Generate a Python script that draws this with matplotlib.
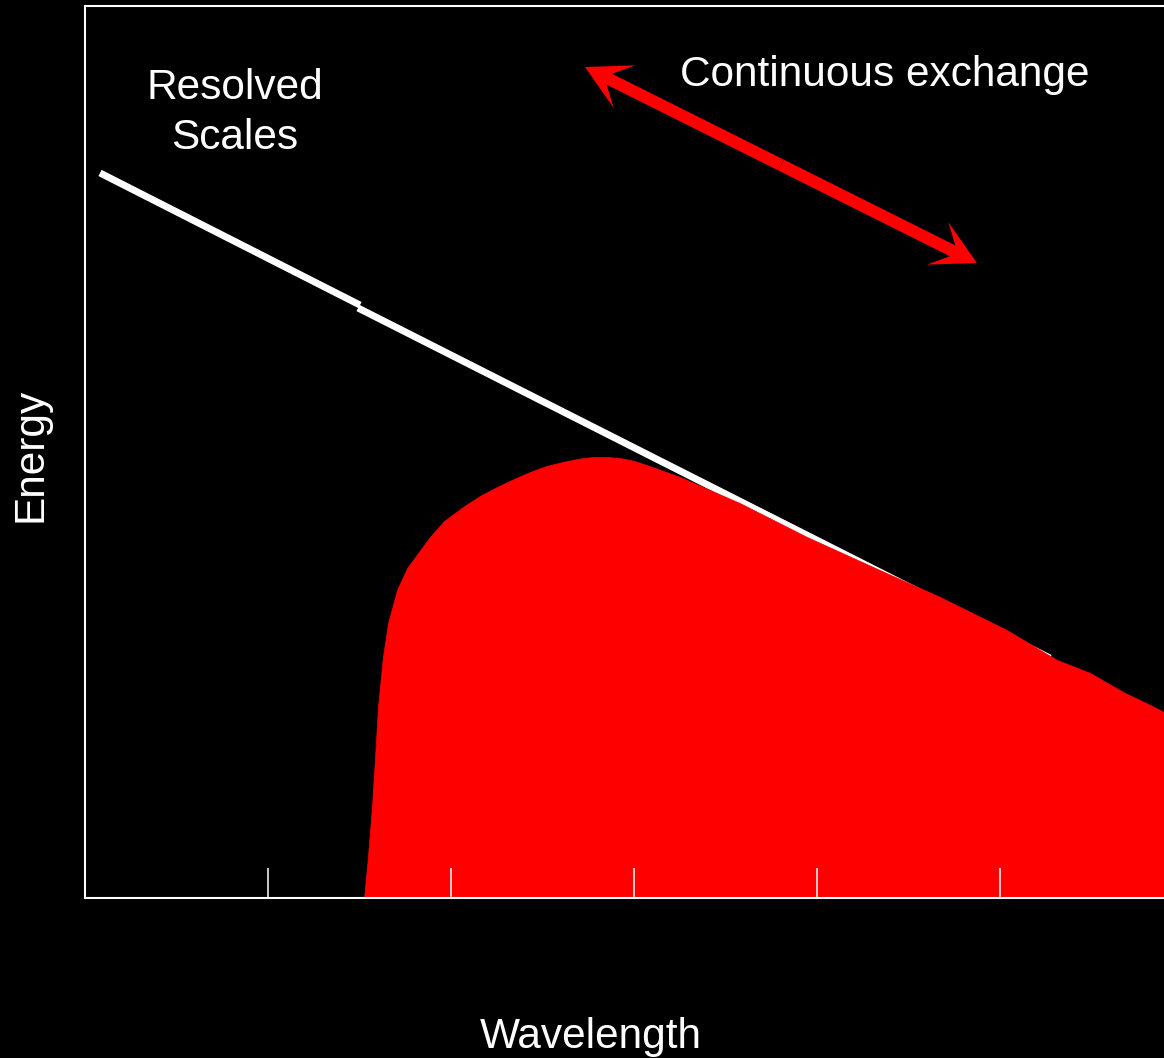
import matplotlib
matplotlib.use("Agg")
import matplotlib.pyplot as plt
from matplotlib.patches import FancyArrow

plt.rcParams['font.family'] = ['Liberation Sans', 'DejaVu Sans']

# Red spectrum (sub-grid / unresolved energy) curve
red_x = [1.525, 1.546, 1.568, 1.585, 1.601, 1.628, 1.656, 1.705, 1.760, 1.885,
         1.962, 2.066, 2.158, 2.251, 2.344, 2.432, 2.519, 2.612, 2.694, 2.776,
         2.852, 2.923, 2.995, 3.071, 3.251, 3.579, 3.945, 4.306, 4.672, 5.038,
         5.311, 5.492, 5.672, 5.820, 5.896, 6.000]
red_y = [0.000, 0.224, 0.497, 0.770, 1.044, 1.317, 1.503, 1.683, 1.803, 1.973,
         2.060, 2.137, 2.197, 2.246, 2.290, 2.328, 2.360, 2.383, 2.400, 2.410,
         2.410, 2.404, 2.390, 2.366, 2.301, 2.158, 1.973, 1.809, 1.645, 1.464,
         1.301, 1.230, 1.126, 1.055, 1.016, 0.962]

# White resolved-scales line (two segments with a small offset)
line1_x = [0.082, 1.503]
line1_y = [3.962, 3.240]
line2_x = [1.492, 5.273]
line2_y = [3.224, 1.311]

tick_pos = [1, 2, 3, 4, 5]

# Double-headed "continuous exchange" arrow end points
arrow_start = (2.732, 4.541)
arrow_end = (4.874, 3.470)

fig = plt.figure(figsize=(11.64, 10.58), dpi=100, facecolor='black')
ax = fig.add_axes([85/1164, 160/1058, 1098/1164, 892/1058])
ax.set_facecolor('black')
ax.set_xlim(0, 6.0)
ax.set_ylim(0, 892/183)
ax.set_axisbelow(False)

ax.plot(line1_x, line1_y, color='white', lw=5.0, solid_capstyle='butt', zorder=1.5)
ax.plot(line2_x, line2_y, color='white', lw=5.0, solid_capstyle='butt', zorder=1.5)
ax.fill_between(red_x, 0, red_y, color='#ff0000', lw=0.5, edgecolor='#ff0000',
                zorder=2)

for s in ax.spines.values():
    s.set_color('white')
    s.set_linewidth(1.5)
    s.set_zorder(3)

ax.set_xticks(tick_pos)
ax.set_xticklabels([])
ax.set_yticks([])
ax.tick_params(axis='x', direction='in', length=21.5, width=1.1, color='white')
ax.xaxis.set_zorder(3)

mx = (arrow_start[0] + arrow_end[0]) / 2
my = (arrow_start[1] + arrow_end[1]) / 2
for (ex, ey) in (arrow_start, arrow_end):
    ax.add_patch(FancyArrow(mx, my, ex - mx, ey - my, width=0.066,
                            head_width=0.26, head_length=0.24, overhang=0.38,
                            length_includes_head=True, color='#ff0000',
                            lw=0, zorder=6))

ax.text(0.820, 4.290, 'Resolved\nScales', color='white', fontsize=30.5,
        ha='center', va='center', linespacing=1.3)
ax.text(4.372, 4.497, 'Continuous exchange', color='white', fontsize=30.5,
        ha='center', va='center')

fig.text(30/1164, 1 - 455/1058, 'Energy', color='white', fontsize=30.5,
         rotation=90, ha='center', va='center')
fig.text(591/1164, 1 - 1037/1058, 'Wavelength', color='white', fontsize=30.5,
         ha='center', va='center')

fig.savefig('out.png', dpi=100, facecolor='black')
